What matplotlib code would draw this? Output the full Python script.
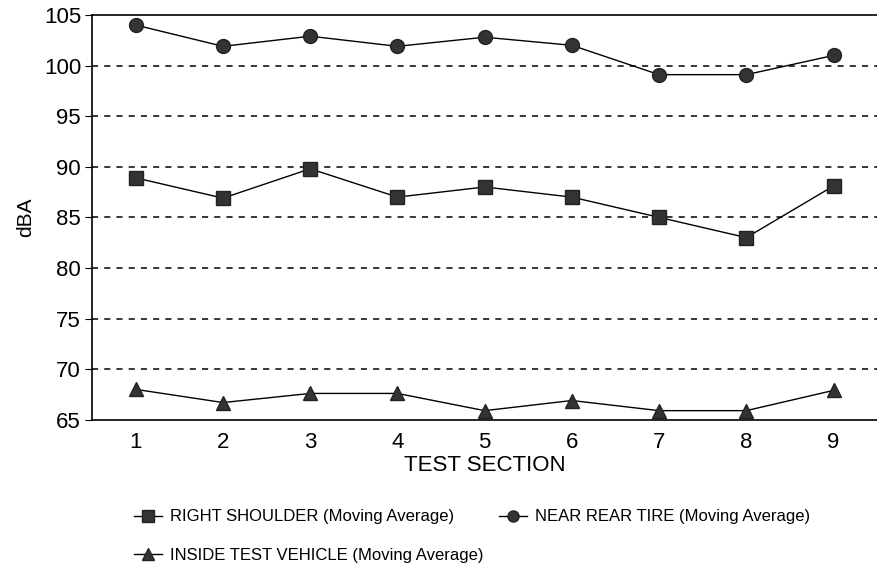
import matplotlib.pyplot as plt

sections = [1, 2, 3, 4, 5, 6, 7, 8, 9]
right_shoulder = [88.9, 86.9, 89.8, 87.0, 88.0, 87.0, 85.0, 83.0, 88.1]
near_rear_tire = [104.0, 101.9, 102.9, 101.9, 102.8, 102.0, 99.1, 99.1, 101.0]
inside_vehicle = [68.0, 66.7, 67.6, 67.6, 65.9, 66.9, 65.9, 65.9, 67.9]
yticks = [65, 70, 75, 80, 85, 90, 95, 100, 105]

plt.rcParams['font.family'] = ['Liberation Sans', 'DejaVu Sans']

fig = plt.figure(figsize=(8.78, 5.75), dpi=100)
ax = fig.add_axes([0.105, 0.27, 0.894, 0.704])

mk = dict(color='black', linewidth=1, markerfacecolor='#333333',
          markeredgecolor='#222222')
l1, = ax.plot(sections, right_shoulder, marker='s', markersize=10, **mk)
l2, = ax.plot(sections, near_rear_tire, marker='o', markersize=10, **mk)
l3, = ax.plot(sections, inside_vehicle, marker='^', markersize=10, **mk)

for y in yticks[1:-1]:
    ax.axhline(y, color='black', linewidth=1.1, linestyle=(0, (4, 4)), zorder=0)

ax.set_xlim(0.5, 9.5)
ax.set_ylim(65, 105)
ax.set_xticks(sections)
ax.set_yticks(yticks)
ax.tick_params(axis='x', length=0, labelsize=16, pad=9)
ax.tick_params(axis='y', length=5, labelsize=16, pad=3)
ax.spines['right'].set_visible(False)
for s in ['left', 'top', 'bottom']:
    ax.spines[s].set_linewidth(1.2)

ax.set_ylabel('dBA', fontsize=15, labelpad=6)
ax.set_xlabel('TEST SECTION', fontsize=16, labelpad=1)

fig.legend([l1, l3, l2],
           ['RIGHT SHOULDER (Moving Average)', 'INSIDE TEST VEHICLE (Moving Average)',
            'NEAR REAR TIRE (Moving Average)'],
           ncol=2, loc='upper left', bbox_to_anchor=(0.135, 0.14),
           frameon=False, markerscale=0.8, handlelength=1.7, handletextpad=0.5,
           labelspacing=1.4, columnspacing=0.9,
           prop={'family': ['Liberation Sans Narrow', 'Liberation Sans'], 'size': 12})

fig.savefig('out.png', dpi=100)
